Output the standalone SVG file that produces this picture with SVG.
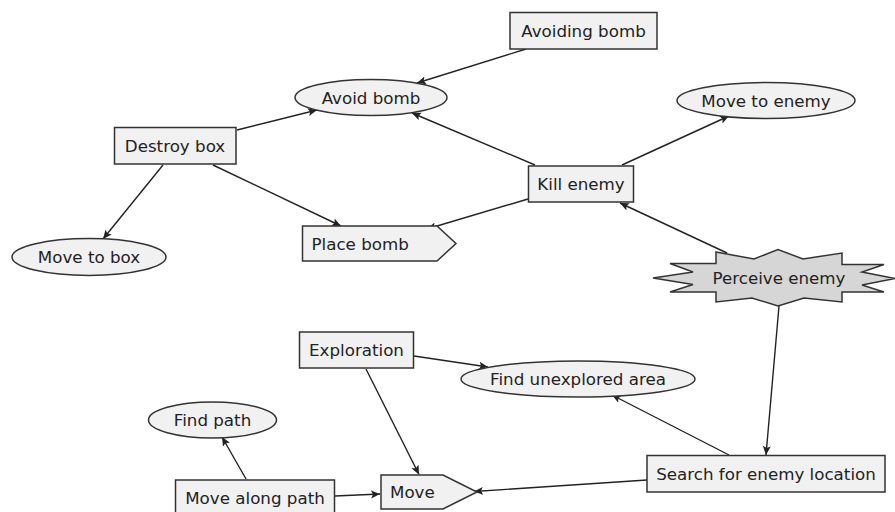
<svg xmlns="http://www.w3.org/2000/svg" width="895" height="512" viewBox="0 0 895 512">
<defs>
<style>
.n{fill:#f1f1f1;stroke:#333;stroke-width:1.5}
.star{fill:#d6d6d6;stroke:#333;stroke-width:1.5}
.t{font-family:"DejaVu Sans",Verdana,sans-serif;font-size:16.7px;fill:#222;text-anchor:middle}
.ts{font-family:"DejaVu Sans",Verdana,sans-serif;font-size:16.7px;fill:#222;text-anchor:start}
.e{fill:none;stroke:#222;stroke-width:1.4;marker-end:url(#ah)}
</style>
<marker id="ah" markerUnits="userSpaceOnUse" markerWidth="11" markerHeight="9" refX="9" refY="4" orient="auto">
<path d="M0,0 L9,4 L0,8 L2,4 z" fill="#222"/>
</marker>
</defs>
<rect width="895" height="512" fill="#fff"/>
<g id="connectors">
<line class="e" x1="526" y1="49" x2="417" y2="83"/>
<line class="e" x1="237" y1="130" x2="317" y2="110"/>
<line class="e" x1="535" y1="165" x2="412" y2="113"/>
<line class="e" x1="622" y1="165" x2="729" y2="116"/>
<line class="e" x1="163" y1="165" x2="103" y2="239"/>
<line class="e" x1="213" y1="165" x2="341" y2="226"/>
<line class="e" x1="528" y1="199" x2="427" y2="229"/>
<line class="e" x1="727" y1="253" x2="620" y2="203"/>
<line class="e" x1="779" y1="306" x2="766" y2="455"/>
<line class="e" x1="414" y1="356" x2="488" y2="367"/>
<line class="e" x1="366" y1="369" x2="419" y2="474.5"/>
<line class="e" x1="729" y1="455" x2="612" y2="395"/>
<line class="e" x1="647" y1="480" x2="474" y2="491.5"/>
<line class="e" x1="246" y1="479" x2="222" y2="437"/>
<line class="e" x1="335" y1="496" x2="380" y2="494"/>
</g>
<g id="avoiding-bomb">
<rect class="n" x="510" y="12.5" width="147" height="36.5"/>
<text class="t" x="583.5" y="36.5">Avoiding bomb</text>
</g>
<g id="avoid-bomb">
<ellipse class="n" cx="371" cy="97.5" rx="76" ry="18"/>
<text class="t" x="371" y="103.5">Avoid bomb</text>
</g>
<g id="destroy-box">
<rect class="n" x="114.5" y="127.5" width="121.5" height="36.5"/>
<text class="t" x="175" y="151.5">Destroy box</text>
</g>
<g id="move-to-enemy">
<ellipse class="n" cx="766" cy="100.5" rx="89" ry="18"/>
<text class="t" x="766" y="106.5">Move to enemy</text>
</g>
<g id="kill-enemy">
<rect class="n" x="528.5" y="166" width="105" height="36"/>
<text class="t" x="581" y="190">Kill enemy</text>
</g>
<g id="move-to-box">
<ellipse class="n" cx="89" cy="257" rx="77" ry="18.5"/>
<text class="t" x="89" y="263">Move to box</text>
</g>
<g id="place-bomb">
<polygon class="n" points="302.5,226 437,226 456,243.5 437,261 302.5,261"/>
<text class="ts" x="311.5" y="249.5">Place bomb</text>
</g>
<g id="perceive-enemy">
<polygon class="star" points="716,252 754,259 778,249.5 803,259 842,253 842,264.5 884,264.5 862,272 895,278.5 862,285 884,292 842,292 842,302 804,298 778,306 752,298 716,302 716,292 670,292 693,284.5 653,278 693,272 670,263.5 716,263.5"/>
<text class="t" x="779" y="284">Perceive enemy</text>
</g>
<g id="exploration">
<rect class="n" x="299.5" y="332" width="114" height="36"/>
<text class="t" x="356.5" y="356">Exploration</text>
</g>
<g id="find-unexplored-area">
<ellipse class="n" cx="578" cy="379" rx="117" ry="18"/>
<text class="t" x="578" y="385">Find unexplored area</text>
</g>
<g id="find-path">
<ellipse class="n" cx="212.5" cy="420" rx="64" ry="18"/>
<text class="t" x="212.5" y="426">Find path</text>
</g>
<g id="search-for-enemy-location">
<rect class="n" x="647" y="455.5" width="238" height="36.5"/>
<text class="t" x="766" y="479.5">Search for enemy location</text>
</g>
<g id="move-along-path">
<rect class="n" x="175.5" y="480" width="159" height="37"/>
<text class="t" x="255" y="504">Move along path</text>
</g>
<g id="move">
<polygon class="n" points="381,475 443,475 477,492 443,509 381,509"/>
<text class="ts" x="390" y="498">Move</text>
</g>
</svg>
